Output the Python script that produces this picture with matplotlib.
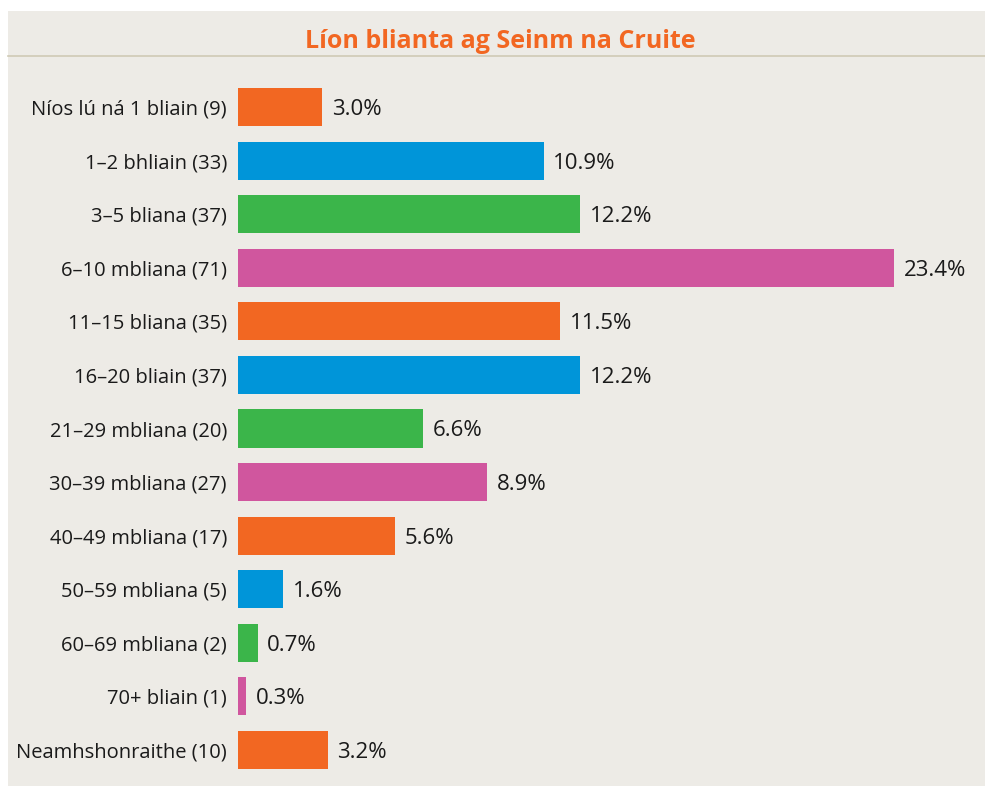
import matplotlib
matplotlib.use("Agg")
import matplotlib.pyplot as plt
from matplotlib.patches import Rectangle
from matplotlib.lines import Line2D

categories = [
    "Níos lú ná 1 bliain (9)",
    "1–2 bhliain (33)",
    "3–5 bliana (37)",
    "6–10 mbliana (71)",
    "11–15 bliana (35)",
    "16–20 bliain (37)",
    "21–29 mbliana (20)",
    "30–39 mbliana (27)",
    "40–49 mbliana (17)",
    "50–59 mbliana (5)",
    "60–69 mbliana (2)",
    "70+ bliain (1)",
    "Neamhshonraithe (10)",
]
percents = [3.0, 10.9, 12.2, 23.4, 11.5, 12.2, 6.6, 8.9, 5.6, 1.6, 0.7, 0.3, 3.2]
palette = ["#f26722", "#0095d9", "#3bb54a", "#d0569e"]

W, H = 985, 787
bg = "#edebe6"

plt.rcParams['font.family'] = ['Open Sans', 'DejaVu Sans']

fig = plt.figure(figsize=(W / 100, H / 100), dpi=100)
fig.patch.set_facecolor("white")

# grey panel and the rule under the title
fig.patches.append(Rectangle((8 / W, 1 - 786 / H), (W - 8) / W, 775 / H,
                             transform=fig.transFigure, facecolor=bg,
                             edgecolor="none", zorder=-10))
fig.lines.append(Line2D([8 / W, 1], [1 - 56 / H, 1 - 56 / H],
                        transform=fig.transFigure, color="#cfcab5", lw=1.2,
                        zorder=-5))
fig.text(500 / W, 1 - 42 / H, "Líon blianta ag Seinm na Cruite",
         ha="center", va="center", color="#f26722", fontsize=18,
         fontweight="bold")

# axes: 28.03 px per percent, bars centred 53.6 px apart
px_per = 28.03
xmax = 26
left, top, bottom = 238, 80.2, 776.8
ax = fig.add_axes([left / W, 1 - bottom / H, xmax * px_per / W, (bottom - top) / H])
ax.set_facecolor("none")
ax.set_zorder(5)

y = range(len(categories))
colors = [palette[i % 4] for i in y]
ax.barh(y, percents, height=0.71, color=colors)
for yi, v in zip(y, percents):
    ax.annotate(f"{v:.1f}%", (v, yi), xytext=(7, 0), textcoords="offset points",
                va="center_baseline", ha="left", fontsize=16, color="#1a1a1a")

ax.set_xlim(0, xmax)
ax.set_ylim(len(categories) - 0.5, -0.5)
ax.set_yticks(list(y))
ax.set_yticklabels(categories, fontsize=14.5, color="#1a1a1a")
for lab in ax.get_yticklabels():
    lab.set_verticalalignment("center_baseline")
ax.tick_params(axis="y", length=0, pad=8)
ax.set_xticks([])
for s in ax.spines.values():
    s.set_visible(False)

fig.savefig("out.png", dpi=100, facecolor="white")
